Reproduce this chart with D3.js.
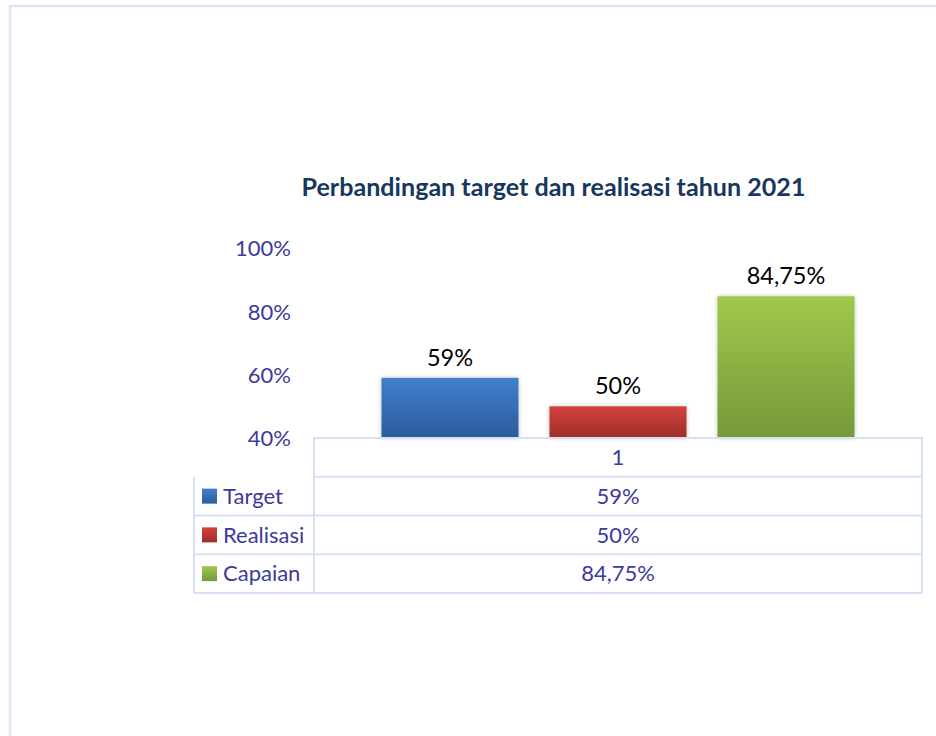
<!DOCTYPE html>
<html><head><meta charset="utf-8">
<script src="https://cdn.jsdelivr.net/npm/d3@7"></script>
<style>html,body{margin:0;padding:0;background:#fff;overflow:hidden}</style>
</head><body>
<svg id="c" width="936" height="736"></svg>
<script>
const title = "Perbandingan target dan realisasi tahun 2021";
const category = ["1"];
const seriesNames = ["Target", "Realisasi", "Capaian"];
const seriesValues = [59, 50, 84.75];
const valueLabels = ["59%", "50%", "84,75%"];
const yTicks = [40, 60, 80, 100];
const colorsTop = ["#3f7fcc", "#d2423d", "#a0c84c"];
const colorsBottom = ["#2c5c9a", "#9f2e2a", "#76983a"];

const svg = d3.select("#c");
const FONT = "Lato, 'Open Sans', sans-serif";
const TXT = "#3b3b9c";
const GRID = "#d6e2f3";

// outer chart border
svg.append("rect").attr("x", 10).attr("y", 6).attr("width", 960).attr("height", 760)
  .attr("fill", "#fff").attr("stroke", "#dbe5f3").attr("stroke-width", 2.5);

const defs = svg.append("defs");
seriesNames.forEach((s, i) => {
  const g = defs.append("linearGradient").attr("id", "g" + i).attr("x1", 0).attr("y1", 0).attr("x2", 0).attr("y2", 1);
  g.append("stop").attr("offset", "0%").attr("stop-color", colorsTop[i]);
  g.append("stop").attr("offset", "100%").attr("stop-color", colorsBottom[i]);
});
const f = defs.append("filter").attr("id", "sh").attr("x", "-10%").attr("y", "-10%").attr("width", "120%").attr("height", "120%");
f.append("feDropShadow").attr("dx", 0).attr("dy", 0).attr("stdDeviation", 2).attr("flood-color", "#000").attr("flood-opacity", 0.25);

svg.append("text").attr("x", 553.5).attr("y", 196).attr("text-anchor", "middle")
  .attr("font-family", FONT).attr("font-weight", "bold").attr("font-size", 25.1)
  .attr("fill", "#17375e").text(title);

const plotL = 314, plotR = 922, plotT = 248, plotB = 438;
const y = d3.scaleLinear().domain([40, 100]).range([plotB, plotT]);
const x0 = d3.scaleBand().domain(category).range([plotL, plotR]).paddingInner(0).paddingOuter(0.1427);
const x1 = d3.scaleBand().domain(seriesNames).range([0, x0.bandwidth()]).paddingInner(0.1845).paddingOuter(0);

// y axis labels
const yAxis = d3.axisLeft(y).tickValues(yTicks).tickFormat(d => d + "%").tickSize(0).tickPadding(0);
const ga = svg.append("g").attr("transform", "translate(291,0)").call(yAxis);
ga.select(".domain").remove();
ga.selectAll("text").attr("font-family", FONT).attr("font-size", 22).attr("fill", TXT).attr("dy", "0.35em");

// bars
const bars = svg.append("g").attr("transform", `translate(${x0(category[0])},0)`);
bars.selectAll("rect").data(seriesValues).join("rect")
  .attr("x", (d, i) => x1(seriesNames[i])).attr("width", x1.bandwidth())
  .attr("y", d => y(d)).attr("height", d => y(40) - y(d))
  .attr("fill", (d, i) => `url(#g${i})`).attr("filter", "url(#sh)");
bars.selectAll("text").data(seriesValues).join("text")
  .attr("x", (d, i) => x1(seriesNames[i]) + x1.bandwidth() / 2)
  .attr("y", d => y(d) - 12).attr("text-anchor", "middle")
  .attr("font-family", FONT).attr("font-size", 23.5).attr("fill", "#000")
  .text((d, i) => valueLabels[i]);

// data table
const rowH = 38.75;
const tblL = 194;
const rows = d3.range(seriesNames.length + 1);
const tg = svg.append("g").attr("stroke", GRID).attr("stroke-width", 2).attr("fill", "none");
tg.append("path").attr("d", `M${plotL},${plotB + rowH}V${plotB}H${plotR}V${plotB + rowH * 4}`);
rows.forEach(r => {
  tg.append("line").attr("x1", r === 0 ? plotL : tblL).attr("x2", plotR)
    .attr("y1", plotB + rowH * (r + 1)).attr("y2", plotB + rowH * (r + 1));
});
tg.append("line").attr("x1", tblL).attr("x2", tblL).attr("y1", plotB + rowH).attr("y2", plotB + rowH * 4);
tg.append("line").attr("x1", plotL).attr("x2", plotL).attr("y1", plotB + rowH).attr("y2", plotB + rowH * 4);

const cx = (plotL + plotR) / 2;
svg.append("text").attr("x", cx).attr("y", plotB + rowH / 2).attr("dy", "0.35em").attr("text-anchor", "middle")
  .attr("font-family", FONT).attr("font-size", 22).attr("fill", TXT).text(category[0]);
seriesNames.forEach((s, i) => {
  const cy = plotB + rowH * (i + 1) + rowH / 2;
  svg.append("rect").attr("x", 202).attr("y", cy - 7.5).attr("width", 15).attr("height", 15).attr("fill", `url(#g${i})`);
  svg.append("text").attr("x", 223).attr("y", cy).attr("dy", "0.35em")
    .attr("font-family", FONT).attr("font-size", 22).attr("fill", TXT).text(s);
  svg.append("text").attr("x", cx).attr("y", cy).attr("dy", "0.35em").attr("text-anchor", "middle")
    .attr("font-family", FONT).attr("font-size", 22).attr("fill", TXT).text(valueLabels[i]);
});
</script>
</body></html>
